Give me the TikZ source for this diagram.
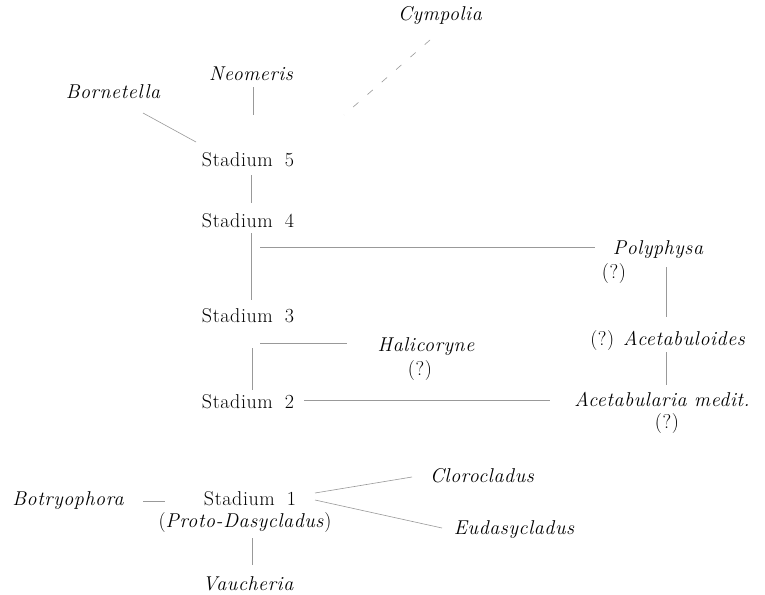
\documentclass[tikz,border=0pt]{standalone}
\usepackage{fontspec}
\setmainfont{Latin Modern Roman}[LetterSpace=3]
\tikzset{
  tx/.style={anchor=base,inner sep=0pt,text=black,font=\fontsize{20}{24}\selectfont},
  it/.style={tx,font=\fontsize{20}{24}\selectfont\itshape},
  ln/.style={draw=black!40,line width=0.6pt},
  dln/.style={ln,dash pattern=on 7pt off 12pt}
}
\begin{document}
\begin{tikzpicture}[x=1pt,y=-1pt]
\useasboundingbox[fill=white] (0,0) rectangle (765,594);
% nodes
\node[it] (cym) at (440,21) {Cympolia};
\node[it] (neo) at (251,80) {Neomeris};
\node[it] (born) at (113,98) {Bornetella};
\node[tx] (s5) at (248,166) {Stadium\hspace{0.6em}5};
\node[tx] (s4) at (248,227) {Stadium\hspace{0.6em}4};
\node[tx] (s3) at (248,322) {Stadium\hspace{0.6em}3};
\node[tx] (s2) at (248,408) {Stadium\hspace{0.6em}2};
\node[tx] (s1) at (250,505) {Stadium\hspace{0.6em}1};
\node[tx] (proto) at (245,527) {(\textit{Proto-Dasycladus})};
\node[it] (vau) at (248,590) {Vaucheria};
\node[it] (bot) at (68,505) {Botryophora};
\node[it] (clor) at (482,482) {Clorocladus};
\node[it] (eud) at (514,534) {Eudasycladus};
\node[it] (poly) at (658,254) {Polyphysa};
\node[tx] (polyq) at (614,278) {(?)};
\node[tx] (acbo) at (668,345) {(?) \textit{Acetabuloides}};
\node[it] (hali) at (426,351) {Halicoryne};
\node[tx] (haliq) at (420,375) {(?)};
\node[it] (acet) at (662,406) {Acetabularia medit.};
\node[tx] (acetq) at (667,428) {(?)};
% connectors
\draw[ln] ([shift={(2,7)}]neo.base) -- ([shift={(5,-51)}]s5.base);
\draw[ln] ([shift={(30,15)}]born.base) -- ([shift={(-52,-24)}]s5.base);
\draw[dln] ([shift={(-10,19)}]cym.base) -- ([shift={(96,-51)}]s5.base);
\draw[ln] ([shift={(3,9)}]s5.base) -- ([shift={(3,-24)}]s4.base);
\draw[ln] ([shift={(3,6)}]s4.base) -- ([shift={(3,-22)}]s3.base);
\draw[ln] ([shift={(12,20)}]s4.base) -- ([shift={(-63,-7)}]poly.base);
\draw[ln] ([shift={(8,13)}]poly.base) -- ([shift={(-2,-28)}]acbo.base);
\draw[ln] ([shift={(12,21)}]s3.base) -- ([shift={(-79,-8)}]hali.base);
\draw[ln] ([shift={(4,26)}]s3.base) -- ([shift={(4,-18)}]s2.base);
\draw[ln] ([shift={(56,-8)}]s2.base) -- ([shift={(-112,-6)}]acet.base);
\draw[ln] ([shift={(-2,7)}]acbo.base) -- ([shift={(4,-21)}]acet.base);
\draw[ln] ([shift={(75,-4)}]bot.base) -- ([shift={(-85,-4)}]s1.base);
\draw[ln] ([shift={(65,-12)}]s1.base) -- ([shift={(-70,-5)}]clor.base);
\draw[ln] ([shift={(65,-5)}]s1.base) -- ([shift={(-72,-6)}]eud.base);
\draw[ln] ([shift={(7,11)}]proto.base) -- ([shift={(4,-25)}]vau.base);
\end{tikzpicture}
\end{document}
